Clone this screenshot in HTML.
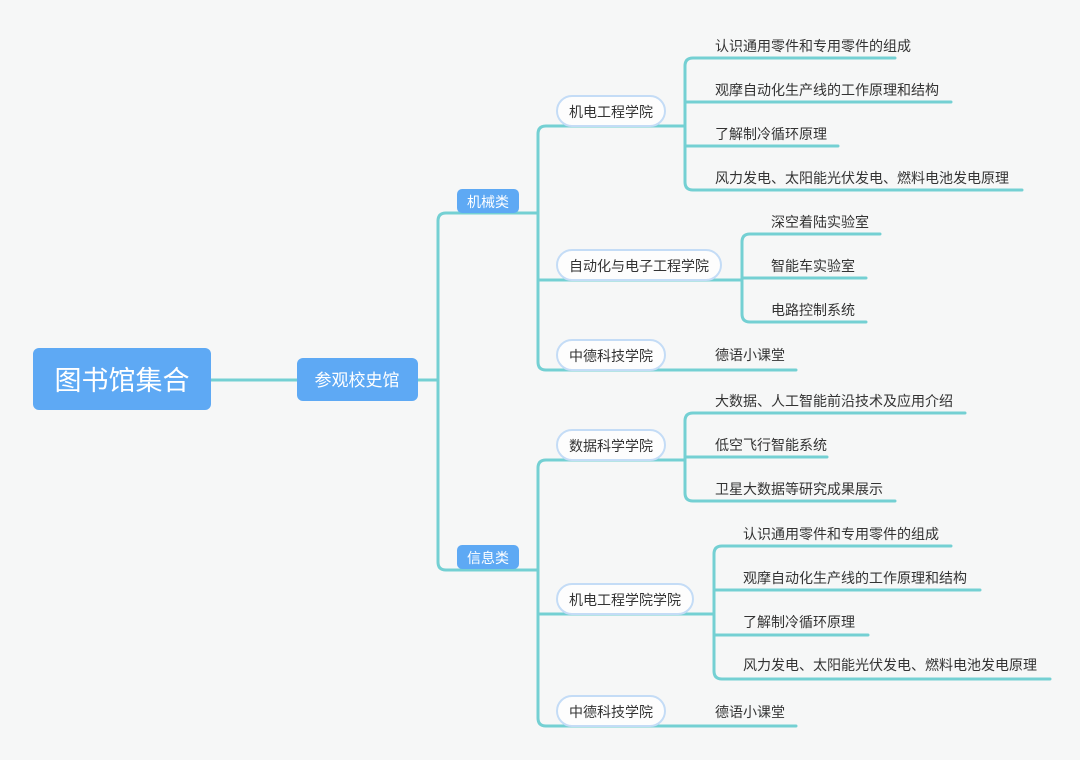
<!DOCTYPE html>
<html><head><meta charset="utf-8"><style>
html,body{margin:0;padding:0;background:#f6f7f7;}
svg{display:block;}
text{font-family:"Liberation Sans","Noto Sans CJK SC",sans-serif;}
.l{fill:none;stroke:#74d0d3;stroke-width:3;stroke-linejoin:round;stroke-linecap:round;}
.t{font-size:14px;fill:#333;}
.p{fill:#fdfdfd;stroke:#c4dcf6;stroke-width:2;}
</style></head><body>
<svg width="1080" height="760" viewBox="0 0 1080 760" xmlns="http://www.w3.org/2000/svg">
<rect width="1080" height="760" fill="#f6f7f7"/>
<!-- main connectors -->
<path class="l" d="M211 380H297"/>
<path class="l" d="M418 380H438"/>
<path class="l" d="M519 213H446Q438 213 438 221V562Q438 570 446 570H519"/>
<!-- 机械类 branch -->
<path class="l" d="M519 213H538"/>
<path class="l" d="M665 126H546Q538 126 538 134V362Q538 370 546 370H796"/>
<path class="l" d="M538 280H742"/>
<!-- 机电 children -->
<path class="l" d="M665 126H685"/>
<path class="l" d="M895 58H693Q685 58 685 66V182Q685 190 693 190H1022"/>
<path class="l" d="M685 102H951M685 146H838"/>
<!-- 自动化 children -->
<path class="l" d="M880 234H750Q742 234 742 242V314Q742 322 750 322H866"/>
<path class="l" d="M742 278H866"/>
<!-- 信息类 branch -->
<path class="l" d="M519 570H538"/>
<path class="l" d="M665 460H546Q538 460 538 468V718Q538 726 546 726H796"/>
<path class="l" d="M538 614H714"/>
<!-- 数据 children -->
<path class="l" d="M665 460H685"/>
<path class="l" d="M965 413H693Q685 413 685 421V493Q685 501 693 501H895"/>
<path class="l" d="M685 457H827"/>
<!-- 机电学院学院 children -->
<path class="l" d="M951 546H722Q714 546 714 554V671Q714 679 722 679H1050"/>
<path class="l" d="M714 590H980M714 635H868"/>

<!-- nodes -->
<rect x="33" y="348" width="178" height="62" rx="6" fill="#5ea9f4"/>
<text x="122" y="390" text-anchor="middle" font-size="27" fill="#fff">图书馆集合</text>
<rect x="297" y="358" width="121" height="43" rx="6" fill="#5ea9f4"/>
<text x="357" y="386" text-anchor="middle" font-size="17" fill="#fff">参观校史馆</text>
<rect x="457" y="189" width="62" height="24" rx="5" fill="#5ea9f4"/>
<text x="488" y="207" text-anchor="middle" font-size="14" fill="#fff">机械类</text>
<rect x="457" y="545" width="62" height="24" rx="5" fill="#5ea9f4"/>
<text x="488" y="563" text-anchor="middle" font-size="14" fill="#fff">信息类</text>

<rect class="p" x="557" y="96" width="108" height="30" rx="15"/>
<text class="t" x="611" y="117" text-anchor="middle">机电工程学院</text>
<rect class="p" x="557" y="250" width="164" height="30" rx="15"/>
<text class="t" x="639" y="271" text-anchor="middle">自动化与电子工程学院</text>
<rect class="p" x="557" y="340" width="108" height="30" rx="15"/>
<text class="t" x="611" y="361" text-anchor="middle">中德科技学院</text>
<rect class="p" x="557" y="430" width="108" height="30" rx="15"/>
<text class="t" x="611" y="451" text-anchor="middle">数据科学学院</text>
<rect class="p" x="557" y="584" width="136" height="30" rx="15"/>
<text class="t" x="625" y="605" text-anchor="middle">机电工程学院学院</text>
<rect class="p" x="557" y="696" width="108" height="30" rx="15"/>
<text class="t" x="611" y="717" text-anchor="middle">中德科技学院</text>

<!-- leaves -->
<text class="t" x="715" y="51">认识通用零件和专用零件的组成</text>
<text class="t" x="715" y="95">观摩自动化生产线的工作原理和结构</text>
<text class="t" x="715" y="139">了解制冷循环原理</text>
<text class="t" x="715" y="183">风力发电、太阳能光伏发电、燃料电池发电原理</text>
<text class="t" x="771" y="227">深空着陆实验室</text>
<text class="t" x="771" y="271">智能车实验室</text>
<text class="t" x="771" y="315">电路控制系统</text>
<text class="t" x="715" y="360">德语小课堂</text>
<text class="t" x="715" y="406">大数据、人工智能前沿技术及应用介绍</text>
<text class="t" x="715" y="450">低空飞行智能系统</text>
<text class="t" x="715" y="494">卫星大数据等研究成果展示</text>
<text class="t" x="743" y="539">认识通用零件和专用零件的组成</text>
<text class="t" x="743" y="583">观摩自动化生产线的工作原理和结构</text>
<text class="t" x="743" y="627">了解制冷循环原理</text>
<text class="t" x="743" y="670">风力发电、太阳能光伏发电、燃料电池发电原理</text>
<text class="t" x="715" y="717">德语小课堂</text>
</svg>
</body></html>
